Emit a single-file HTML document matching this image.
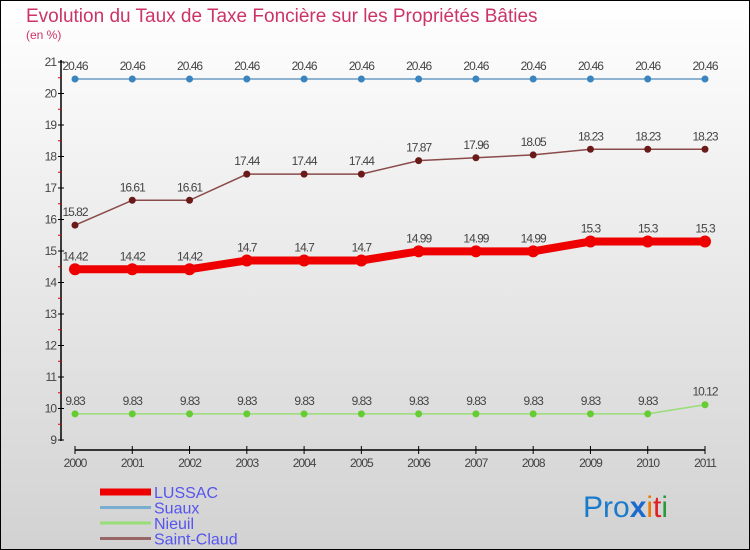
<!DOCTYPE html>
<html><head><meta charset="utf-8"><style>
body{margin:0}
svg{display:block;font-family:"Liberation Sans",sans-serif}
</style></head><body>
<svg id="c" width="750" height="550" viewBox="0 0 750 550">
<defs><linearGradient id="bg" x1="0" y1="0" x2="0" y2="1"><stop offset="0" stop-color="#ffffff"/><stop offset="1" stop-color="#d2d2d2"/></linearGradient></defs>
<rect x="0.5" y="0.5" width="749" height="549" fill="url(#bg)" stroke="#000"/>
<text x="26" y="22" font-size="19" fill="#cc3366">Evolution du Taux de Taxe Foncière sur les Propriétés Bâties</text>
<text x="26" y="39" font-size="12" fill="#cc3366">(en %)</text>
<g id="axes"></g>
<g id="series"></g>
<g id="legend"></g>
<text x="583" y="517" font-size="30"><tspan fill="#1a7acc">Pro</tspan><tspan fill="#1a6ad0" font-weight="bold">x</tspan><tspan fill="#f07800">i</tspan><tspan fill="#e02020">t</tspan><tspan fill="#2a9a3a">i</tspan></text>
</svg>
<script>
const years=[2000,2001,2002,2003,2004,2005,2006,2007,2008,2009,2010,2011];
const yTicks=[9,10,11,12,13,14,15,16,17,18,19,20,21];
const lussac=[14.42,14.42,14.42,14.7,14.7,14.7,14.99,14.99,14.99,15.3,15.3,15.3];
const suaux=[20.46,20.46,20.46,20.46,20.46,20.46,20.46,20.46,20.46,20.46,20.46,20.46];
const nieuil=[9.83,9.83,9.83,9.83,9.83,9.83,9.83,9.83,9.83,9.83,9.83,10.12];
const saintClaud=[15.82,16.61,16.61,17.44,17.44,17.44,17.87,17.96,18.05,18.23,18.23,18.23];
const NS="http://www.w3.org/2000/svg";
const x=i=>75+i*(630/11);
const y=v=>62+(21-v)*31.5;
function mk(t,a,p){const e=document.createElementNS(NS,t);for(const k in a)e.setAttribute(k,a[k]);p.appendChild(e);return e;}
const ax=document.getElementById('axes');
let e=mk('line',{x1:61,y1:60,x2:61,y2:441,stroke:'#000','stroke-width':1.5},ax);

e=mk('line',{x1:75,y1:450,x2:705,y2:450,stroke:'#000','stroke-width':1.5},ax);

yTicks.forEach(v=>{
 mk('line',{x1:58,y1:y(v),x2:64,y2:y(v),stroke:'#000'},ax);
 if(v<21)mk('line',{x1:58,y1:y(v+0.5),x2:61,y2:y(v+0.5),stroke:'#e00000'},ax);
 const t=mk('text',{x:56,y:y(v)+4,'font-size':12,'text-anchor':'end',fill:'#444','letter-spacing':'-1'},ax);t.textContent=v;
 
});
years.forEach((yr,i)=>{
 mk('line',{x1:x(i),y1:446,x2:x(i),y2:454,stroke:'#000'},ax);
 const t=mk('text',{x:x(i),y:467,'font-size':12,'text-anchor':'middle',fill:'#444','letter-spacing':'-1'},ax);t.textContent=yr;
 
});
const sg=document.getElementById('series');
function series(name,data,color,w,r,dot,label){
 const g=mk('g',{},sg);
 
 const p=mk('polyline',{points:data.map((v,i)=>x(i)+','+y(v)).join(' '),fill:'none',stroke:color,'stroke-width':w},g);
 data.forEach((v,i)=>{
  const c=mk('circle',{cx:x(i),cy:y(v),r:r,fill:dot},g);
  
  const t=mk('text',{x:x(i),y:y(v)-9,'font-size':12,'text-anchor':'middle',fill:label,'letter-spacing':'-1'},g);t.textContent=v;
  
 });
}
series('suaux',suaux,'#6a9cc4',1.5,3.5,'#3a85c0','#444');
series('saint-claud',saintClaud,'#8a4a4a',1.5,3.5,'#6b1a1a','#444');
series('nieuil',nieuil,'#99dd77',1.5,3.5,'#66cc33','#444');
series('lussac',lussac,'#ee0000',8,6,'#ee0000','#444');
const lg=document.getElementById('legend');
[['LUSSAC','#ee0000',7],['Suaux','#7aaed0',3],['Nieuil','#99dd77',3],['Saint-Claud','#996666',3]].forEach((d,i)=>{
 const yy=492+i*15.5;
 const l=mk('line',{x1:100,y1:yy,x2:151,y2:yy,stroke:d[1],'stroke-width':d[2]},lg);
 
 const t=mk('text',{x:154,y:yy+6,'font-size':16,fill:'#5555ee'},lg);t.textContent=d[0];
 
});
</script>
</body></html>
